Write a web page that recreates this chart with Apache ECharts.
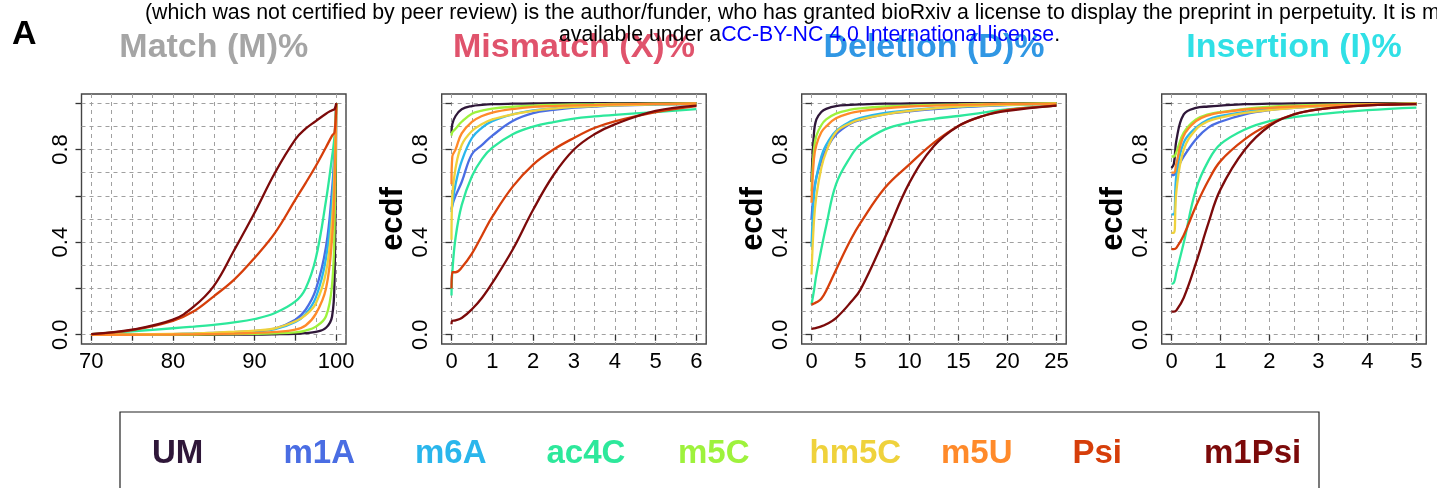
<!DOCTYPE html>
<html>
<head>
<meta charset="utf-8">
<script src="https://cdn.jsdelivr.net/npm/echarts@6/dist/echarts.min.js"></script>
<style>
  html, body { margin: 0; padding: 0; background: #fff; }
  #chart { width: 1437px; height: 488px; }
</style>
</head>
<body>
<div id="chart"></div>
<script>
// modifications, in legend / drawing order
var mods = ['UM', 'm1A', 'm6A', 'ac4C', 'm5C', 'hm5C', 'm5U', 'Psi', 'm1Psi'];
var modColors = ['#2f1739', '#4a6de3', '#2ab6ec', '#2de89b', '#9ef23c', '#efd23c', '#ff8a2a', '#d63e0a', '#7c0a0a'];

// Match (M)% panel
var matchX = [70, 75, 80, 82.5, 85, 87.5, 90, 92.5, 95, 96.25, 97.5, 98.75, 99.5, 99.8, 100];
var matchY = [
	[0, 0, 0, 0, 0, 0.001, 0.001, 0.002, 0.004, 0.007, 0.012, 0.03, 0.08, 0.25, 1],
	[0, 0.001, 0.003, 0.005, 0.008, 0.011, 0.016, 0.027, 0.065, 0.108, 0.195, 0.38, 0.63, 0.8, 1],
	[0, 0.001, 0.003, 0.005, 0.007, 0.01, 0.014, 0.024, 0.055, 0.09, 0.16, 0.33, 0.58, 0.78, 1],
	[0.003, 0.015, 0.028, 0.035, 0.043, 0.053, 0.068, 0.094, 0.144, 0.2, 0.33, 0.58, 0.77, 0.86, 1],
	[0, 0, 0.001, 0.001, 0.002, 0.003, 0.004, 0.006, 0.01, 0.018, 0.035, 0.08, 0.22, 0.48, 1],
	[0, 0.001, 0.004, 0.006, 0.009, 0.013, 0.018, 0.028, 0.058, 0.085, 0.135, 0.27, 0.5, 0.72, 1],
	[0, 0, 0.001, 0.002, 0.003, 0.005, 0.008, 0.012, 0.022, 0.04, 0.09, 0.2, 0.42, 0.65, 1],
	[0.003, 0.02, 0.06, 0.1, 0.166, 0.238, 0.332, 0.44, 0.584, 0.655, 0.729, 0.81, 0.86, 0.875, 1],
	[0.003, 0.022, 0.065, 0.12, 0.21, 0.365, 0.527, 0.7, 0.844, 0.89, 0.923, 0.955, 0.97, 0.975, 1]
];

// Mismatch (X)% panel
var mismatchX = [0, 0.02, 0.1, 0.25, 0.5, 0.75, 1, 1.5, 2, 2.5, 3, 3.5, 4, 5, 6];
var mismatchY = [
	[0.87, 0.91, 0.945, 0.974, 0.988, 0.993, 0.996, 0.998, 0.999, 1, 1, 1, 1, 1, 1],
	[0.54, 0.56, 0.6, 0.66, 0.78, 0.82, 0.86, 0.923, 0.957, 0.971, 0.981, 0.986, 0.99, 0.994, 0.997],
	[0.53, 0.56, 0.65, 0.75, 0.85, 0.895, 0.923, 0.952, 0.969, 0.978, 0.985, 0.989, 0.992, 0.995, 0.997],
	[0.17, 0.27, 0.42, 0.56, 0.685, 0.76, 0.808, 0.866, 0.899, 0.919, 0.934, 0.943, 0.95, 0.962, 0.975],
	[0.86, 0.875, 0.89, 0.92, 0.955, 0.968, 0.977, 0.985, 0.99, 0.993, 0.995, 0.996, 0.997, 0.998, 0.999],
	[0.41, 0.6, 0.72, 0.82, 0.88, 0.91, 0.93, 0.952, 0.967, 0.977, 0.984, 0.988, 0.991, 0.995, 0.997],
	[0.65, 0.77, 0.8, 0.87, 0.92, 0.945, 0.96, 0.975, 0.984, 0.988, 0.991, 0.993, 0.995, 0.997, 0.999],
	[0.2, 0.27, 0.27, 0.29, 0.35, 0.43, 0.51, 0.64, 0.735, 0.8, 0.85, 0.893, 0.922, 0.962, 0.988],
	[0.045, 0.06, 0.062, 0.072, 0.11, 0.16, 0.224, 0.368, 0.54, 0.69, 0.8, 0.866, 0.909, 0.967, 0.99]
];

// Deletion (D)% panel
var deletionX = [0, 0.25, 0.5, 1, 1.5, 2.5, 4, 5, 7.5, 10, 12.5, 15, 17.5, 20, 25];
var deletionY = [
	[0.66, 0.87, 0.93, 0.962, 0.976, 0.988, 0.993, 0.995, 0.998, 0.999, 1, 1, 1, 1, 1],
	[0.5, 0.62, 0.68, 0.75, 0.8, 0.865, 0.912, 0.928, 0.952, 0.965, 0.975, 0.982, 0.988, 0.992, 0.997],
	[0.38, 0.6, 0.68, 0.77, 0.82, 0.88, 0.922, 0.937, 0.958, 0.97, 0.979, 0.985, 0.99, 0.993, 0.998],
	[0.13, 0.19, 0.26, 0.37, 0.47, 0.65, 0.77, 0.822, 0.887, 0.916, 0.933, 0.945, 0.96, 0.974, 0.99],
	[0.62, 0.8, 0.86, 0.905, 0.93, 0.955, 0.972, 0.978, 0.986, 0.99, 0.993, 0.995, 0.997, 0.998, 1],
	[0.26, 0.49, 0.6, 0.72, 0.79, 0.875, 0.915, 0.93, 0.952, 0.967, 0.978, 0.986, 0.99, 0.993, 0.997],
	[0.57, 0.76, 0.82, 0.875, 0.9, 0.935, 0.958, 0.966, 0.978, 0.986, 0.99, 0.993, 0.995, 0.997, 0.998],
	[0.13, 0.135, 0.14, 0.155, 0.19, 0.28, 0.41, 0.483, 0.635, 0.736, 0.83, 0.902, 0.945, 0.971, 0.99],
	[0.025, 0.027, 0.03, 0.036, 0.045, 0.072, 0.14, 0.195, 0.42, 0.657, 0.815, 0.902, 0.945, 0.967, 0.99]
];

// Insertion (I)% panel
var insertionX = [0, 0.05, 0.1, 0.25, 0.5, 0.75, 1, 1.5, 2, 2.5, 3, 4, 5];
var insertionY = [
	[0.72, 0.74, 0.84, 0.952, 0.98, 0.986, 0.99, 0.996, 0.998, 0.999, 1, 1, 1],
	[0.69, 0.69, 0.71, 0.77, 0.845, 0.895, 0.92, 0.952, 0.97, 0.98, 0.988, 0.994, 0.998],
	[0.52, 0.52, 0.69, 0.83, 0.895, 0.93, 0.945, 0.963, 0.974, 0.982, 0.988, 0.994, 0.998],
	[0.22, 0.225, 0.27, 0.397, 0.628, 0.75, 0.823, 0.887, 0.923, 0.94, 0.952, 0.97, 0.981],
	[0.77, 0.77, 0.79, 0.873, 0.93, 0.952, 0.962, 0.976, 0.985, 0.99, 0.993, 0.996, 0.998],
	[0.44, 0.44, 0.62, 0.8, 0.887, 0.922, 0.938, 0.958, 0.97, 0.98, 0.987, 0.993, 0.998],
	[0.7, 0.7, 0.74, 0.86, 0.923, 0.948, 0.96, 0.973, 0.98, 0.986, 0.99, 0.995, 0.998],
	[0.37, 0.37, 0.375, 0.43, 0.556, 0.665, 0.75, 0.845, 0.909, 0.952, 0.974, 0.991, 0.996],
	[0.1, 0.1, 0.105, 0.16, 0.31, 0.48, 0.628, 0.8, 0.902, 0.952, 0.974, 0.991, 0.996]
];

// tick labels
var matchLabels = [70, 80, 90, 100];
var mismatchLabels = [0, 1, 2, 3, 4, 5, 6];
var deletionLabels = [0, 5, 10, 15, 20, 25];
var insertionLabels = [0, 1, 2, 3, 4, 5];
var yLabels = [0, 0.4, 0.8];

var panelTitles = ['Match (M)%', 'Mismatch (X)%', 'Deletion (D)%', 'Insertion (I)%'];
var titleColors = ['#a5a5a5', '#e0536c', '#3097e4', '#30e0e6'];

var panels = [
	{ xs: matchX, ys: matchY, min: 70, max: 100, tick: 5, step: 2.5, labels: matchLabels, ylab: '' },
	{ xs: mismatchX, ys: mismatchY, min: 0, max: 6, tick: 1, step: 0.5, labels: mismatchLabels, ylab: 'ecdf' },
	{ xs: deletionX, ys: deletionY, min: 0, max: 25, tick: 5, step: 2.5, labels: deletionLabels, ylab: 'ecdf' },
	{ xs: insertionX, ys: insertionY, min: 0, max: 5, tick: 1, step: 0.5, labels: insertionLabels, ylab: 'ecdf' }
];

var FONT = '"Liberation Sans", Arial, Helvetica, sans-serif';
var boxLeft = [81.5, 441.7, 801.7, 1161.7];
var boxTop = 94, boxW = 264.5, boxH = 250;
var padX = boxW * 0.04 / 1.08, padY = boxH * 0.04 / 1.08;
var dash = { color: '#a0a0a0', width: 1, type: [4, 4] };
var tickStyle = { color: '#333', width: 1.3 };

var grid = [], xAxis = [], yAxis = [], series = [], graphic = [], legend = [];

panels.forEach(function(p, i) {
	var span = p.max - p.min;
	// box with the dashed background grid (R plot region, 4% padding)
	grid.push({ left: boxLeft[i], top: boxTop, width: boxW, height: boxH, show: true,
		borderColor: '#444', borderWidth: 1.4, backgroundColor: 'transparent' });
	xAxis.push({ gridIndex: 2 * i, type: 'value', min: p.min - span * 0.04, max: p.max + span * 0.04,
		minInterval: p.step, maxInterval: p.step,
		axisLine: { show: false }, axisTick: { show: false }, axisLabel: { show: false },
		splitLine: { show: true, showMinLine: false, showMaxLine: false, lineStyle: dash } });
	yAxis.push({ gridIndex: 2 * i, type: 'value', min: -0.04, max: 1.04,
		minInterval: 0.1, maxInterval: 0.1,
		axisLine: { show: false }, axisTick: { show: false }, axisLabel: { show: false },
		splitLine: { show: true, showMinLine: false, showMaxLine: false, lineStyle: dash } });

	// data area
	grid.push({ left: boxLeft[i] + padX, top: boxTop + padY, width: boxW - 2 * padX, height: boxH - 2 * padY });
	xAxis.push({ gridIndex: 2 * i + 1, type: 'value', min: p.min, max: p.max, interval: p.tick,
		offset: padY,
		axisLine: { show: false },
		axisTick: { show: true, length: 6, lineStyle: tickStyle },
		axisLabel: { fontSize: 22, color: '#000', margin: 7, fontFamily: FONT,
			formatter: function(v) { return p.labels.indexOf(v) >= 0 ? String(v) : ''; } },
		splitLine: { show: false } });
	yAxis.push({ gridIndex: 2 * i + 1, type: 'value', min: 0, max: 1, interval: 0.2,
		offset: padX,
		axisLine: { show: false },
		axisTick: { show: true, length: 6, lineStyle: tickStyle },
		axisLabel: { fontSize: 22, color: '#000', margin: 10, rotate: 90, fontFamily: FONT,
			formatter: function(v) {
				for (var k = 0; k < yLabels.length; k++) {
					if (Math.abs(yLabels[k] - v) < 1e-6) return v.toFixed(1);
				}
				return '';
			} },
		splitLine: { show: false },
		name: p.ylab, nameLocation: 'middle', nameGap: 32,
		nameTextStyle: { fontSize: 31, fontWeight: 'bold', color: '#000', fontFamily: FONT } });

	mods.forEach(function(m, k) {
		series.push({
			name: m, type: 'line', xAxisIndex: 2 * i + 1, yAxisIndex: 2 * i + 1,
			data: p.xs.map(function(x, j) { return [x, p.ys[k][j]]; }),
			showSymbol: false, smooth: 0.4, clip: false,
			lineStyle: { width: 2.3, color: modColors[k] },
			itemStyle: { color: modColors[k] },
			emphasis: { disabled: true }
		});
	});

	graphic.push({ type: 'text', x: boxLeft[i] + boxW / 2, y: 48,
		style: { text: panelTitles[i], fill: titleColors[i], font: 'bold 34px ' + FONT,
			align: 'center', verticalAlign: 'middle', textAlign: 'center', textVerticalAlign: 'middle' } });
});

// one legend entry per modification, left-aligned on a fixed pitch
mods.forEach(function(m, k) {
	legend.push({
		left: 147 + 131.5 * k, top: 437, padding: 0, icon: 'none', itemWidth: 0, itemHeight: 0,
		selectedMode: false,
		data: [{ name: m }],
		textStyle: { fontSize: 33, fontWeight: 'bold', fontFamily: FONT, color: modColors[k] }
	});
});

// panel letter, preprint header and the legend box
graphic.push({ type: 'text', x: 12, y: 35,
	style: { text: 'A', fill: '#000', font: 'bold 34px ' + FONT, align: 'left', verticalAlign: 'middle',
		textAlign: 'left', textVerticalAlign: 'middle' } });
graphic.push({ type: 'text', x: 145, y: 13,
	style: { text: '(which was not certified by peer review) is the author/funder, who has granted bioRxiv a license to display the preprint in perpetuity. It is made',
		fill: '#000', font: '21.3px ' + FONT, align: 'left', verticalAlign: 'middle',
		textAlign: 'left', textVerticalAlign: 'middle' } });
graphic.push({ type: 'text', x: 809.5, y: 35,
	style: { text: '{a|available under a}{b|CC-BY-NC 4.0 International license}{a|.}',
		align: 'center', verticalAlign: 'middle', textAlign: 'center', textVerticalAlign: 'middle',
		rich: {
			a: { fill: '#000', color: '#000', fontSize: 21.3, fontFamily: FONT },
			b: { fill: '#0000ff', color: '#0000ff', fontSize: 21.3, fontFamily: FONT }
		} } });
graphic.push({ type: 'rect', shape: { x: 120, y: 412, width: 1199, height: 120 },
	style: { fill: 'none', stroke: '#222', lineWidth: 1.2 } });

var chart = echarts.init(document.getElementById('chart'));
chart.setOption({
	animation: false,
	backgroundColor: '#fff',
	grid: grid,
	xAxis: xAxis,
	yAxis: yAxis,
	series: series,
	graphic: graphic,
	legend: legend
});
window.onresize = function() {
	chart.resize();
};
</script>
</body>
</html>
